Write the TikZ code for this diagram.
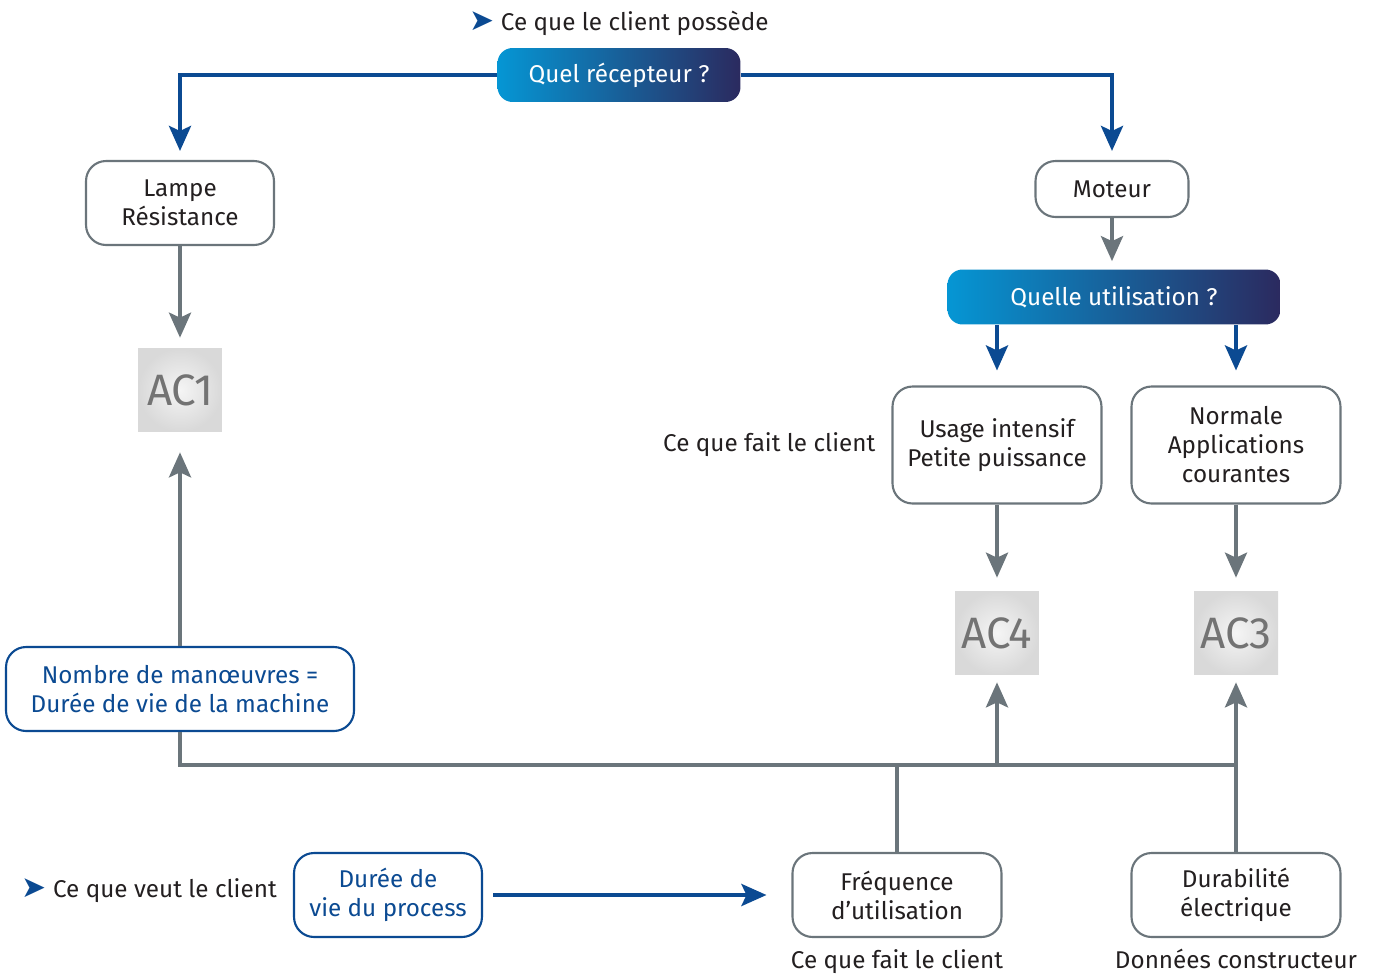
\documentclass[tikz,border=0pt]{standalone}
\usepackage{fontspec}
\setmainfont{Fira Sans}
\newfontfamily\symfont{DejaVu Sans}
\usepackage{xcolor}
\usetikzlibrary{arrows.meta, positioning}

\definecolor{ablue}{HTML}{0B4A92}
\definecolor{agray}{HTML}{6B757B}
\definecolor{atext}{HTML}{231F20}
\definecolor{qleft}{HTML}{0596D4}
\definecolor{qright}{HTML}{2B2A5F}

\newcommand{\bulletarrow}{{\symfont\fontsize{17}{17}\selectfont\color{ablue}➤}}

\begin{document}
\begin{tikzpicture}[x=0.02cm, y=-0.02cm,
    every node/.style={font=\fontsize{13.8}{16.5}\selectfont, text=atext},
    box/.style={draw=agray, line width=1.2pt, rounded corners=0.4cm, fill=white,
      align=center, inner sep=0pt},
    bluebox/.style={box, draw=ablue, text=ablue},
    qbox/.style={rounded corners=0.3cm, left color=qleft, right color=qright,
      text=white, inner sep=0pt},
    acbox/.style={inner color=gray!8, outer color=gray!30, text=gray!110,
      minimum size=1.68cm, inner sep=0pt, font=\fontsize{25}{26}\selectfont},
    barr/.style={-{Stealth[length=0.5cm, width=0.44cm, inset=0.1cm]}, line width=2.3pt, draw=ablue},
    garr/.style={-{Stealth[length=0.5cm, width=0.44cm, inset=0.1cm]}, line width=2.3pt, draw=agray},
    gline/.style={line width=2.3pt, draw=agray}
  ]
  \useasboundingbox (0,0) rectangle (1374,974);

  % receptor branch
  \node[qbox, minimum width=4.86cm, minimum height=1.08cm] (recep) at (619,75) {Quel récepteur ?};
  \node[above=0.12cm of recep] (possede) {\bulletarrow\ Ce que le client possède};
  \node[box, minimum width=3.76cm, minimum height=1.68cm] (lampe) at (180,203) {Lampe\\Résistance};
  \node[box, minimum width=3.06cm, minimum height=1.12cm] (moteur) at (1112,189) {Moteur};
  \node[acbox] (ac1) at (180,390) {AC1};

  \draw[barr, shorten >=0.18cm] (recep.west) -| (lampe.north);
  \draw[barr, shorten >=0.18cm] (recep.east) -| (moteur.north);
  \draw[garr, shorten >=0.2cm] (lampe.south) -- (ac1.north);

  % utilisation branch
  \node[qbox, minimum width=6.66cm, minimum height=1.1cm] (util) at (1114,297) {Quelle utilisation ?};
  \node[box, minimum width=4.18cm, minimum height=2.34cm] (usage) at (997,445) {Usage intensif\\Petite puissance};
  \node[box, minimum width=4.18cm, minimum height=2.34cm] (normale) at (1236,445) {Normale\\Applications\\courantes};
  \node[left=0.2cm of usage] (fait1) {Ce que fait le client};
  \node[acbox] (ac4) at (997,633) {AC4};
  \node[acbox] (ac3) at (1236,633) {AC3};

  \draw[garr, shorten >=0.16cm] (moteur) -- (moteur |- util.north);
  \draw[barr, shorten >=0.3cm] (util.south -| usage) -- (usage.north);
  \draw[barr, shorten >=0.3cm] (util.south -| normale) -- (normale.north);
  \draw[garr, shorten >=0.26cm] (usage.south) -- (ac4.north);
  \draw[garr, shorten >=0.26cm] (normale.south) -- (ac3.north);

  % bottom part
  \node[bluebox, minimum width=6.96cm, minimum height=1.68cm] (nombre) at (180,689) {Nombre de manœuvres =\\Durée de vie de la machine};
  \node[bluebox, minimum width=3.76cm, minimum height=1.68cm] (duree) at (388,895) {Durée de\\vie du process};
  \node[left=0.2cm of duree, yshift=0.08cm] (veut) {\bulletarrow\ Ce que veut le client};
  \node[box, minimum width=4.18cm, minimum height=1.68cm] (freq) at (897,895) {Fréquence\\d’utilisation};
  \node[box, minimum width=4.18cm, minimum height=1.68cm] (durab) at (1236,895) {Durabilité\\électrique};
  \node[below=0.1cm of freq] (fait2) {Ce que fait le client};
  \node[below=0.1cm of durab] (donnees) {Données constructeur};
  \coordinate (bus) at (1236,765);

  \draw[garr, shorten >=0.4cm] (nombre.north) -- (ac1.south);
  \draw[gline] (nombre.south) |- (bus);
  \draw[gline] (freq.north) -- (freq.north |- bus);
  \draw[gline] (durab.north) -- (bus);
  \draw[garr, shorten >=0.14cm] (ac4 |- bus) -- (ac4.south);
  \draw[garr, shorten >=0.14cm] (bus) -- (ac3.south);
  \draw[barr, shorten <=0.2cm, shorten >=0.5cm] (duree.east) -- (freq.west);
\end{tikzpicture}
\end{document}
